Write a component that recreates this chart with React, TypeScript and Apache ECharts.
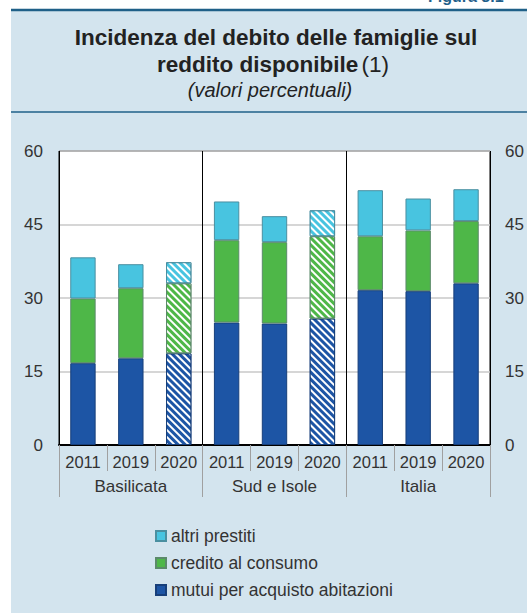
import React, { useEffect, useRef } from "react";
import * as echarts from "echarts";

const years = ["2011", "2019", "2020", "2011", "2019", "2020", "2011", "2019", "2020"];
const groups = ["Basilicata", "Sud e Isole", "Italia"];
const yTicks = [0, 15, 30, 45, 60];
const mutui = [16.7, 17.7, 18.7, 25.0, 24.8, 25.8, 31.6, 31.4, 33.0];
const credito = [13.2, 14.3, 14.3, 16.8, 16.6, 16.8, 11.0, 12.4, 12.7];
const altri = [8.4, 4.9, 4.3, 7.9, 5.3, 5.3, 9.4, 6.5, 6.5];
const hatched = [false, false, true, false, false, true, false, false, false];
const seriesNames = ["mutui per acquisto abitazioni", "credito al consumo", "altri prestiti"];

const FONT = 'Arial, "Liberation Sans", Helvetica, sans-serif';
const TEXT = "#333333";

const decal = {
  symbol: "rect",
  symbolSize: 1,
  dashArrayX: [1, 0],
  dashArrayY: [2, 3],
  rotation: Math.PI / 4,
  color: "#ffffff",
};

function mk(values: number[]) {
  return values.map((v, i) => (hatched[i] ? { value: v, itemStyle: { decal } } : v));
}

export default function App() {
  const ref = useRef<HTMLDivElement>(null);
  useEffect(() => {
    document.body.style.margin = "0";
    const chart = echarts.init(ref.current!, null, { renderer: "svg" });
    const colors = ["#1D55A5", "#4EB748", "#48C4E0"];
    const borders = ["#173f7a", "#5b8a6a", "#4a8fa0"];
    const data = [mutui, credito, altri];
    chart.setOption({
      animation: false,
      backgroundColor: "transparent",
      textStyle: { fontFamily: FONT },
      grid: {
        left: 59,
        top: 151,
        right: 37,
        bottom: 168,
        show: true,
        backgroundColor: "#ffffff",
        borderColor: "#000",
        borderWidth: 1,
      },
      legend: {
        orient: "vertical",
        left: 155,
        top: 527,
        padding: 0,
        itemWidth: 10,
        itemHeight: 10,
        itemGap: 9,
        icon: "rect",
        data: ["altri prestiti", "credito al consumo", "mutui per acquisto abitazioni"],
        textStyle: { fontSize: 17.5, color: TEXT, fontFamily: FONT },
      },
      xAxis: [
        {
          type: "category",
          data: years,
          gridIndex: 0,
          position: "bottom",
          axisLine: { show: true, lineStyle: { color: "#000", width: 2 } },
          axisTick: { show: true, interval: 0, length: 26, lineStyle: { color: "#a0a0a0" } },
          axisLabel: { interval: 0, fontSize: 16.5, color: TEXT, margin: 8, fontFamily: FONT },
          splitLine: { show: false },
        },
        {
          type: "category",
          data: groups,
          gridIndex: 0,
          position: "bottom",
          axisLine: { show: false },
          axisTick: { show: true, interval: 0, length: 52, lineStyle: { color: "#a0a0a0" } },
          axisLabel: { interval: 0, fontSize: 17, color: TEXT, margin: 33, fontFamily: FONT },
          splitLine: { show: true, interval: 0, lineStyle: { color: "#000", width: 1 } },
        },
      ],
      yAxis: [
        {
          type: "value",
          min: yTicks[0],
          max: yTicks[yTicks.length - 1],
          interval: 15,
          position: "left",
          axisLine: { show: false },
          axisTick: { show: false },
          axisLabel: { fontSize: 17, color: TEXT, margin: 16, fontFamily: FONT },
          splitLine: { show: true, lineStyle: { color: "#c8c8c8", width: 1.5 } },
        },
        {
          type: "value",
          min: yTicks[0],
          max: yTicks[yTicks.length - 1],
          interval: 15,
          position: "right",
          axisLine: { show: false },
          axisTick: { show: false },
          axisLabel: { fontSize: 17, color: TEXT, margin: 15, fontFamily: FONT },
          splitLine: { show: false },
        },
      ],
      series: data.map((d, k) => ({
        name: seriesNames[k],
        type: "bar",
        stack: "tot",
        xAxisIndex: 0,
        yAxisIndex: 0,
        barWidth: "53%",
        itemStyle: { color: colors[k], borderColor: borders[k], borderWidth: 1 },
        data: mk(d),
      })),
      graphic: [
        {
          type: "text",
          left: 428,
          top: -12,
          style: { text: "Figura 8.1", fill: "#1F5F8B", font: `bold 16px ${FONT}` },
        },
        {
          type: "line",
          shape: { x1: 11, y1: 10, x2: 527, y2: 10 },
          style: { stroke: "#1F6088", lineWidth: 2.5 },
        },
        {
          type: "line",
          shape: { x1: 11, y1: 112, x2: 527, y2: 112 },
          style: { stroke: "#1F6088", lineWidth: 1.5 },
        },
        {
          type: "text",
          x: 276,
          y: 37,
          style: {
            text: "Incidenza del debito delle famiglie sul",
            fill: "#222",
            font: `bold 22.5px ${FONT}`,
            align: "center",
            verticalAlign: "middle",
          },
        },
        {
          type: "text",
          x: 273,
          y: 64,
          style: {
            text: "{b|reddito disponibile} {n|(1)}",
            align: "center",
            verticalAlign: "middle",
            rich: {
              b: { font: `bold 22.5px ${FONT}`, fill: "#222" },
              n: { font: `22.5px ${FONT}`, fill: "#222" },
            },
          },
        },
        {
          type: "text",
          x: 270,
          y: 90,
          style: {
            text: "(valori percentuali)",
            fill: "#222",
            font: `italic 20px ${FONT}`,
            align: "center",
            verticalAlign: "middle",
          },
        },
      ],
    });
    return () => chart.dispose();
  }, []);
  return (
    <div style={{ position: "relative", width: 527, height: 613, background: "#ffffff", overflow: "hidden" }}>
      <div style={{ position: "absolute", left: 11, top: 10, width: 516, height: 603, background: "#D3E4EE" }} />
      <div ref={ref} style={{ position: "absolute", left: 0, top: 0, width: 527, height: 613 }} />
    </div>
  );
}
